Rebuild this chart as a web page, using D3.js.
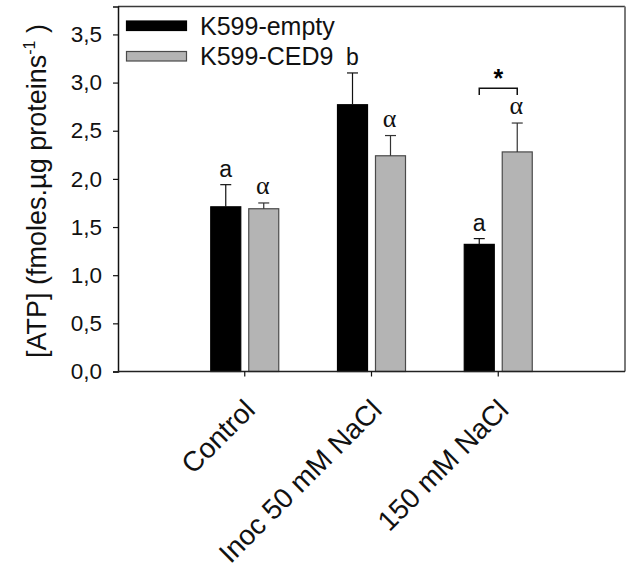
<!DOCTYPE html>
<html>
<head>
<meta charset="utf-8">
<script src="https://cdn.jsdelivr.net/npm/d3@7"></script>
<style>
  html, body { margin: 0; padding: 0; background: #fff; }
  svg text { font-family: Arial, "Liberation Sans", sans-serif; }
</style>
</head>
<body>
<svg id="chart" width="633" height="572"></svg>
<script>
// ---- data ----
const categories = ["Control", "Inoc 50 mM NaCl", "150 mM NaCl"];
const seriesNames = ["K599-empty", "K599-CED9"];
const emptyMean = [1.71, 2.77, 1.32];
const emptyErr  = [0.23, 0.33, 0.06];
const ced9Mean  = [1.69, 2.24, 2.28];
const ced9Err   = [0.06, 0.21, 0.30];
const emptyLetters = ["a", "b", "a"];
const ced9Letters  = ["α", "α", "α"];
const yTicks = [0, 0.5, 1.0, 1.5, 2.0, 2.5, 3.0, 3.5];
const yMax = 3.79;
const significance = [{cat: 2, label: "*"}];

// ---- layout ----
const svg = d3.select("#chart");
const L = 118, R = 625, T = 6.5, B = 371.5;

const x = d3.scaleLinear().domain([0, categories.length + 1]).range([L, R]);
const sub = d3.scaleBand().domain(seriesNames).range([-34, 34]).paddingInner(0.21);
const y = d3.scaleLinear().domain([0, yMax]).range([B, T]);

const fills = {"K599-empty": "#000000", "K599-CED9": "#b4b4b4"};
const strokes = {"K599-empty": "#000000", "K599-CED9": "#4a4a4a"};

const rows = [];
categories.forEach((c, i) => {
  rows.push({cat: i, s: seriesNames[0], v: emptyMean[i], e: emptyErr[i], lab: emptyLetters[i]});
  rows.push({cat: i, s: seriesNames[1], v: ced9Mean[i], e: ced9Err[i], lab: ced9Letters[i]});
});
const cx = d => x(d.cat + 1) + sub(d.s) + sub.bandwidth() / 2;

// frame top / right
svg.append("line").attr("x1", L).attr("x2", R).attr("y1", T).attr("y2", T)
  .attr("stroke", "#3a3a3a").attr("stroke-width", 1.5);
svg.append("line").attr("x1", R).attr("x2", R).attr("y1", T).attr("y2", B)
  .attr("stroke", "#7a7a7a").attr("stroke-width", 2);

// bars
svg.selectAll("rect.bar").data(rows).enter().append("rect")
  .attr("class", "bar")
  .attr("x", d => x(d.cat + 1) + sub(d.s))
  .attr("width", sub.bandwidth())
  .attr("y", d => y(d.v))
  .attr("height", d => y(0) - y(d.v))
  .attr("fill", d => fills[d.s])
  .attr("stroke", d => strokes[d.s])
  .attr("stroke-width", 1.2);

// error bars
const eg = svg.append("g");
rows.forEach(d => {
  const c = cx(d);
  const col = d.s === seriesNames[0] ? "#111" : "#333";
  eg.append("line").attr("x1", c).attr("x2", c).attr("y1", y(d.v)).attr("y2", y(d.v + d.e))
    .attr("stroke", col).attr("stroke-width", 1.2);
  eg.append("line").attr("x1", c - 5.5).attr("x2", c + 5.5).attr("y1", y(d.v + d.e)).attr("y2", y(d.v + d.e))
    .attr("stroke", col).attr("stroke-width", 1.2);
});

// letters
rows.forEach(d => {
  const isGreek = d.s === seriesNames[1];
  svg.append("text")
    .attr("x", cx(d) - (isGreek ? 1 : 0))
    .attr("y", y(d.v + d.e) - (isGreek ? 9 : 8))
    .attr("text-anchor", "middle")
    .style("font-family", isGreek ? "'Liberation Serif', 'DejaVu Serif', serif" : null)
    .style("font-size", isGreek ? "26px" : "23px")
    .attr("fill", "#111")
    .text(d.lab);
});

// significance bracket
significance.forEach(s => {
  const a = rows.find(r => r.cat === s.cat && r.s === seriesNames[0]);
  const b = rows.find(r => r.cat === s.cat && r.s === seriesNames[1]);
  const x1 = cx(a), x2 = cx(b);
  const yb = 88.3, yd = 95;
  svg.append("path").attr("d", `M${x1},${yd}V${yb}H${x2}V${yd}`)
    .attr("fill", "none").attr("stroke", "#111").attr("stroke-width", 1.5);
  svg.append("text").attr("x", (x1 + x2) / 2).attr("y", 87)
    .attr("text-anchor", "middle").style("font-size", "25px").style("font-weight", "bold")
    .text(s.label);
});

// y axis
const yAxis = d3.axisLeft(y).tickValues(yTicks).tickSize(5).tickPadding(11)
  .tickFormat(d => d3.format(".1f")(d).replace(".", ","));
const yg = svg.append("g").attr("transform", `translate(${L},0)`).call(yAxis);
yg.select(".domain").attr("stroke", "#111").attr("stroke-width", 1.5);
yg.selectAll(".tick line").attr("stroke", "#111").attr("stroke-width", 1.2);
yg.selectAll(".tick text").style("font-size", "22.5px").attr("fill", "#111");

// x axis
const xg = svg.append("g");
xg.append("line").attr("x1", L).attr("x2", R).attr("y1", B).attr("y2", B)
  .attr("stroke", "#222").attr("stroke-width", 1.5);
categories.forEach((c, i) => {
  const px = x(i + 1);
  xg.append("line").attr("x1", px).attr("x2", px).attr("y1", B).attr("y2", B + 5)
    .attr("stroke", "#111").attr("stroke-width", 1.2);
  xg.append("text")
    .attr("transform", `translate(${px + 12},${B + 40}) rotate(-45)`)
    .attr("text-anchor", "end")
    .style("font-size", "28px")
    .attr("fill", "#111")
    .text(c);
});

// y title
const yt = svg.append("text")
  .attr("transform", `translate(46,191) rotate(-90)`)
  .attr("text-anchor", "middle")
  .style("font-size", "27px")
  .attr("fill", "#111");
yt.append("tspan").text("[ATP] (fmoles.µg proteins");
yt.append("tspan").attr("dy", -11).style("font-size", "16px").text("-1");
yt.append("tspan").attr("dy", 11).text(" )");

// legend
const lg = svg.append("g");
seriesNames.forEach((s, i) => {
  lg.append("rect").attr("x", 126.5).attr("y", 21 + i * 30.5).attr("width", 60).attr("height", 9.5)
    .attr("fill", fills[s]).attr("stroke", strokes[s]).attr("stroke-width", 1.2);
  lg.append("text").attr("x", 200).attr("y", 26 + i * 30.5).attr("dy", "0.35em")
    .style("font-size", "25px").attr("fill", "#111").text(s);
});
</script>
</body>
</html>
